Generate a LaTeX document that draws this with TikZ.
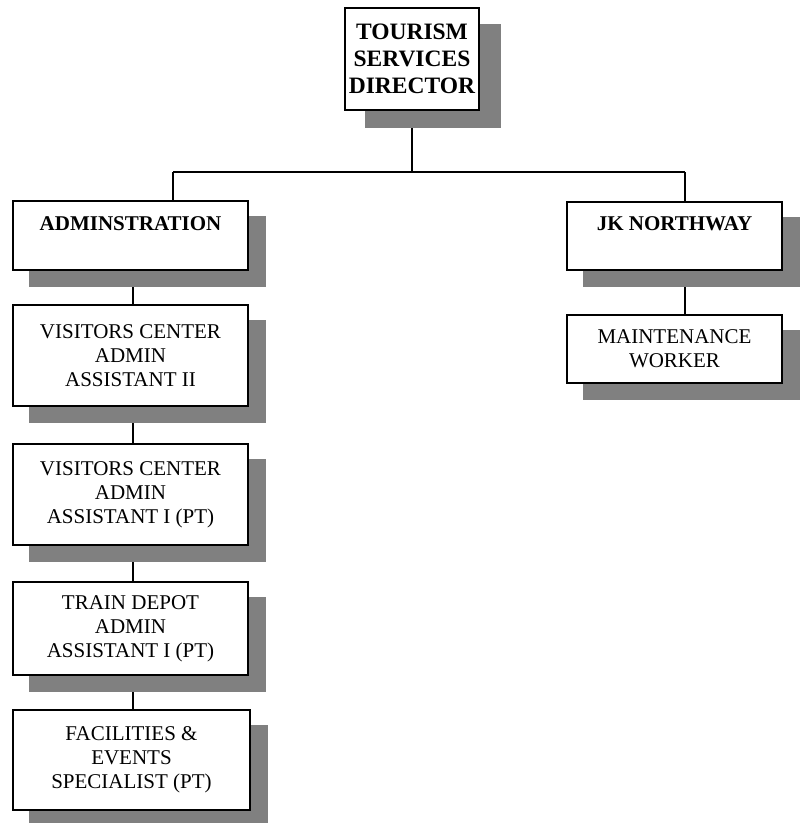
\documentclass[tikz,border=0pt]{standalone}
\usepackage{fontspec}
\setmainfont{Liberation Serif}
\usetikzlibrary{backgrounds}
\definecolor{shadowgray}{HTML}{808080}
\tikzset{
  orgbox/.style={draw=black, line width=1.6pt, fill=white, align=center, inner sep=0pt,
    font=\fontsize{21}{24}\selectfont},
  titlebox/.style={orgbox, font=\fontsize{21}{24}\selectfont\bfseries},
  dirbox/.style={orgbox, font=\fontsize{23.5}{27}\selectfont\bfseries},
  link/.style={draw=black, line width=1.3pt},
  shade/.style={fill=shadowgray},
}
\newcommand{\boxshadow}[1]{%
  \fill[shade] ([shift={(17,16)}]#1.south west) rectangle ([shift={(17,16)}]#1.north east);}
\begin{document}
\begin{tikzpicture}[x=1pt,y=-1pt]
\useasboundingbox (0,0) rectangle (806,823);
\node[dirbox, minimum width=134pt, minimum height=102pt] (dir) at (412,59) {TOURISM\\SERVICES\\DIRECTOR};
\node[titlebox, minimum width=235pt, minimum height=69pt] (admin) at (130.5,235.5) {ADMINSTRATION\\\mbox{}};
\node[titlebox, minimum width=215pt, minimum height=68pt] (jk) at (674.5,236) {JK NORTHWAY\\\mbox{}};
\node[orgbox, minimum width=215pt, minimum height=68pt] (maint) at (674.5,349) {MAINTENANCE\\WORKER};
\node[orgbox, minimum width=235pt, minimum height=101pt] (vc2) at (130.5,355.5) {VISITORS CENTER\\ADMIN\\ASSISTANT II};
\node[orgbox, minimum width=235pt, minimum height=101pt] (vc1) at (130.5,494.5) {VISITORS CENTER\\ADMIN\\ASSISTANT I (PT)};
\node[orgbox, minimum width=235pt, minimum height=93pt] (td) at (130.5,628.5) {TRAIN DEPOT\\ADMIN\\ASSISTANT I (PT)};
\node[orgbox, minimum width=237pt, minimum height=100pt] (fac) at (131.5,760) {FACILITIES \&\\EVENTS\\SPECIALIST (PT)};
\coordinate (jl) at (173,172);
\coordinate (jr) at (685,172);
\coordinate (col) at (133,0);
\begin{scope}[on background layer]
  \draw[link] (dir.south) -- (dir.south |- jl);
  \draw[link] (jl) -- (jr);
  \draw[link] (jl) -- (jl |- admin.north);
  \draw[link] (jr) -- (jr |- jk.north);
  \draw[link] (jr |- jk.south) -- (jr |- maint.north);
  \draw[link] (col |- admin.south) -- (col |- vc2.north);
  \draw[link] (col |- vc2.south) -- (col |- vc1.north);
  \draw[link] (col |- vc1.south) -- (col |- td.north);
  \draw[link] (col |- td.south) -- (col |- fac.north);
  \fill[shade] ([shift={(21,17)}]dir.south west) rectangle ([shift={(21,17)}]dir.north east);
  \boxshadow{admin}
  \boxshadow{jk}
  \boxshadow{maint}
  \boxshadow{vc2}
  \boxshadow{vc1}
  \boxshadow{td}
  \boxshadow{fac}
\end{scope}
\end{tikzpicture}
\end{document}
